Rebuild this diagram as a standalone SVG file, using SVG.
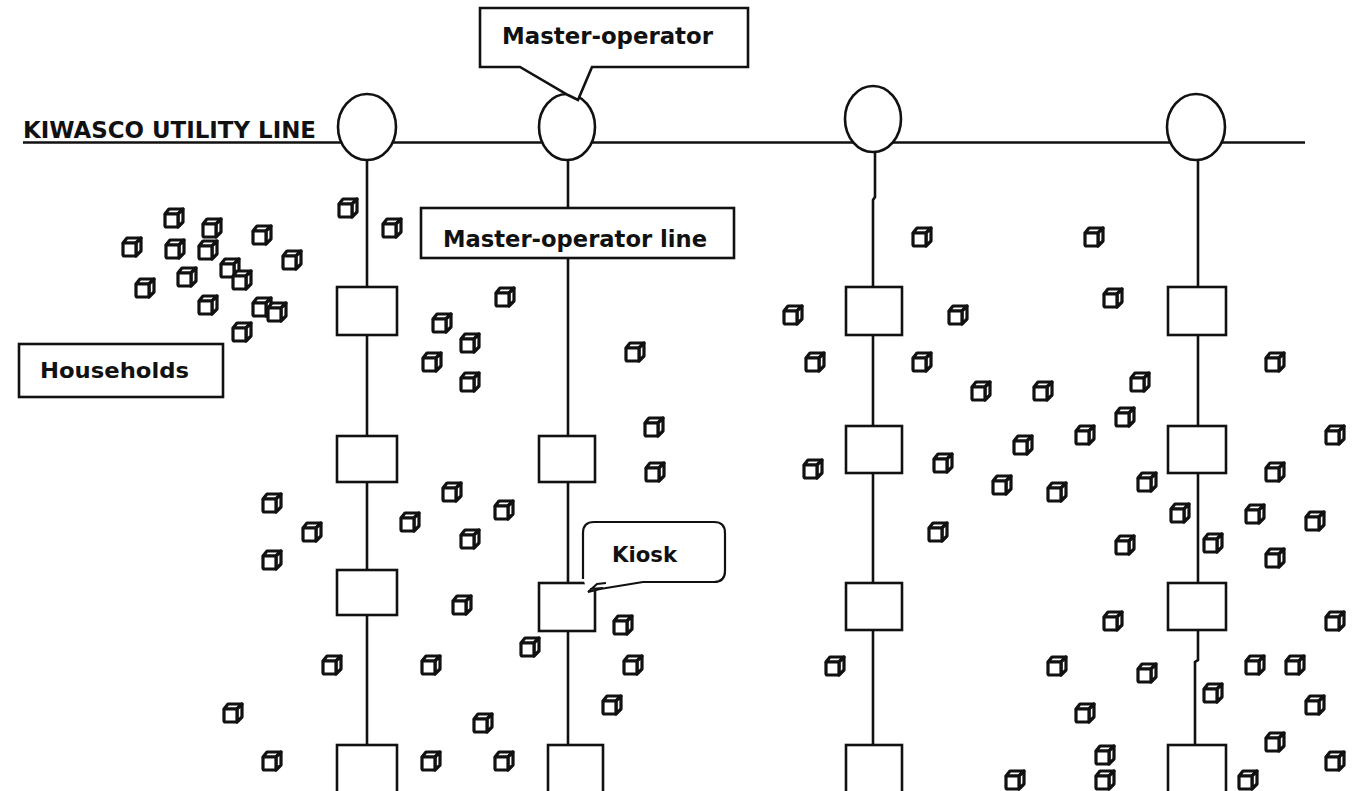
<svg xmlns="http://www.w3.org/2000/svg" width="1355" height="791" viewBox="0 0 1355 791">
<style>
.ln{fill:none;stroke:#111;stroke-width:2.6;stroke-linecap:butt}
.node{fill:#fff;stroke:#111;stroke-width:2.6}
.lbl{fill:#fff;stroke:#111;stroke-width:2.6;stroke-linejoin:miter}
.txt{font-family:"DejaVu Sans","Liberation Sans",sans-serif;font-weight:bold;fill:#111}
.cube{fill:#fff;stroke:#111;stroke-width:3.2;stroke-linejoin:round}
</style>
<defs>
<g id="cube">
<path class="cube" d="M-5,-9 H9 L4,-4 H-9 Z"/>
<path class="cube" d="M4,-4 L9,-9 V4 L4,9 Z"/>
<rect class="cube" x="-9" y="-4" width="13" height="13" rx="1.5"/>
</g>
</defs>
<rect width="1355" height="791" fill="#fff"/>

<g id="connectors">
<path class="ln" d="M23,142.5 H1305"/>
<path class="ln" d="M367,158 V791"/>
<path class="ln" d="M568,158 V791"/>
<path class="ln" d="M875,150 V197 L873,200 V791"/>
<path class="ln" d="M1198,158 V660 L1195,662 V791"/>
</g>

<g id="utility-line-label">
<text class="txt" x="23" y="138" font-size="23" textLength="293" lengthAdjust="spacingAndGlyphs">KIWASCO UTILITY LINE</text>
</g>

<g id="valve-1"><ellipse class="node" cx="367" cy="127" rx="29" ry="33"/></g>
<g id="valve-2"><ellipse class="node" cx="567" cy="127" rx="28" ry="33"/></g>
<g id="valve-3"><ellipse class="node" cx="873" cy="119" rx="28" ry="33"/></g>
<g id="valve-4"><ellipse class="node" cx="1196" cy="127" rx="29" ry="33"/></g>

<g id="master-operator-label">
<path class="lbl" d="M480,8 H748 V67 H592 L578,100 L568,95 L520,67 H480 Z"/>
<text class="txt" x="502" y="44" font-size="23" textLength="211" lengthAdjust="spacingAndGlyphs">Master-operator</text>
</g>

<g id="master-operator-line-label">
<rect class="lbl" x="421" y="208" width="313" height="50"/>
<text class="txt" x="443" y="247" font-size="23" textLength="264" lengthAdjust="spacingAndGlyphs">Master-operator line</text>
</g>

<g id="households-label">
<rect class="lbl" x="19" y="344" width="204" height="53"/>
<text class="txt" x="40" y="378" font-size="22" textLength="149" lengthAdjust="spacingAndGlyphs">Households</text>
</g>

<g id="kiosks-col1">
<rect class="node" x="337" y="287" width="60" height="48"/>
<rect class="node" x="337" y="436" width="60" height="46"/>
<rect class="node" x="337" y="570" width="60" height="45"/>
<rect class="node" x="337" y="745" width="60" height="50"/>
</g>
<g id="kiosks-col2">
<rect class="node" x="539" y="436" width="56" height="46"/>
<rect class="node" x="539" y="583" width="56" height="48"/>
<rect class="node" x="548" y="745" width="55" height="50"/>
</g>
<g id="kiosks-col3">
<rect class="node" x="846" y="287" width="56" height="48"/>
<rect class="node" x="846" y="426" width="56" height="47"/>
<rect class="node" x="846" y="583" width="56" height="47"/>
<rect class="node" x="846" y="745" width="56" height="50"/>
</g>
<g id="kiosks-col4">
<rect class="node" x="1168" y="287" width="58" height="48"/>
<rect class="node" x="1168" y="426" width="58" height="47"/>
<rect class="node" x="1168" y="583" width="58" height="47"/>
<rect class="node" x="1168" y="745" width="58" height="50"/>
</g>

<g id="kiosk-label">
<path fill="#fff" stroke="#111" stroke-width="2.2" stroke-linejoin="round" d="M583,579 V533 Q583,522 594,522 H714 Q725,522 725,533 V571 Q725,582 714,582 H643 L600,589 L588,592"/>
<path fill="none" stroke="#111" stroke-width="2" d="M588,592 L597,584 L606,583 M590,589 L603,588"/>
<text class="txt" x="612" y="562" font-size="21" textLength="65" lengthAdjust="spacingAndGlyphs">Kiosk</text>
</g>

<g id="households">
<use href="#cube" x="174" y="218"/><use href="#cube" x="212" y="228"/><use href="#cube" x="262" y="235"/>
<use href="#cube" x="132" y="247"/><use href="#cube" x="175" y="249"/><use href="#cube" x="208" y="250"/>
<use href="#cube" x="292" y="260"/><use href="#cube" x="230" y="268"/><use href="#cube" x="187" y="277"/>
<use href="#cube" x="242" y="280"/><use href="#cube" x="145" y="288"/><use href="#cube" x="208" y="305"/>
<use href="#cube" x="262" y="307"/><use href="#cube" x="277" y="312"/><use href="#cube" x="242" y="332"/>
<use href="#cube" x="348" y="208"/><use href="#cube" x="392" y="228"/>
<use href="#cube" x="505" y="297"/><use href="#cube" x="442" y="323"/><use href="#cube" x="470" y="343"/>
<use href="#cube" x="432" y="362"/><use href="#cube" x="470" y="382"/>
<use href="#cube" x="635" y="352"/><use href="#cube" x="654" y="427"/><use href="#cube" x="655" y="472"/>
<use href="#cube" x="272" y="503"/><use href="#cube" x="312" y="532"/><use href="#cube" x="272" y="560"/>
<use href="#cube" x="452" y="492"/><use href="#cube" x="410" y="522"/><use href="#cube" x="504" y="510"/>
<use href="#cube" x="470" y="539"/><use href="#cube" x="462" y="605"/><use href="#cube" x="530" y="647"/>
<use href="#cube" x="623" y="625"/><use href="#cube" x="332" y="665"/><use href="#cube" x="431" y="665"/>
<use href="#cube" x="633" y="665"/><use href="#cube" x="612" y="705"/><use href="#cube" x="233" y="713"/>
<use href="#cube" x="483" y="723"/><use href="#cube" x="272" y="761"/><use href="#cube" x="431" y="761"/>
<use href="#cube" x="504" y="761"/>
<use href="#cube" x="922" y="237"/><use href="#cube" x="1094" y="237"/><use href="#cube" x="793" y="315"/>
<use href="#cube" x="958" y="315"/><use href="#cube" x="1113" y="298"/><use href="#cube" x="815" y="362"/>
<use href="#cube" x="922" y="362"/><use href="#cube" x="1275" y="362"/>
<use href="#cube" x="981" y="391"/><use href="#cube" x="1043" y="391"/><use href="#cube" x="1140" y="382"/>
<use href="#cube" x="1125" y="417"/><use href="#cube" x="1085" y="435"/><use href="#cube" x="1023" y="445"/>
<use href="#cube" x="943" y="463"/><use href="#cube" x="813" y="469"/><use href="#cube" x="1002" y="485"/>
<use href="#cube" x="1057" y="492"/><use href="#cube" x="1147" y="482"/><use href="#cube" x="1180" y="513"/>
<use href="#cube" x="938" y="532"/><use href="#cube" x="1125" y="545"/><use href="#cube" x="1213" y="543"/>
<use href="#cube" x="1113" y="621"/><use href="#cube" x="835" y="666"/><use href="#cube" x="1057" y="666"/>
<use href="#cube" x="1147" y="673"/><use href="#cube" x="1085" y="713"/><use href="#cube" x="1105" y="755"/>
<use href="#cube" x="1105" y="780"/><use href="#cube" x="1015" y="780"/><use href="#cube" x="1213" y="693"/>
<use href="#cube" x="1335" y="435"/><use href="#cube" x="1275" y="472"/><use href="#cube" x="1255" y="514"/>
<use href="#cube" x="1315" y="521"/><use href="#cube" x="1275" y="558"/><use href="#cube" x="1335" y="621"/>
<use href="#cube" x="1255" y="665"/><use href="#cube" x="1295" y="665"/><use href="#cube" x="1315" y="705"/>
<use href="#cube" x="1275" y="742"/><use href="#cube" x="1335" y="761"/><use href="#cube" x="1248" y="780"/>
</g>
</svg>
